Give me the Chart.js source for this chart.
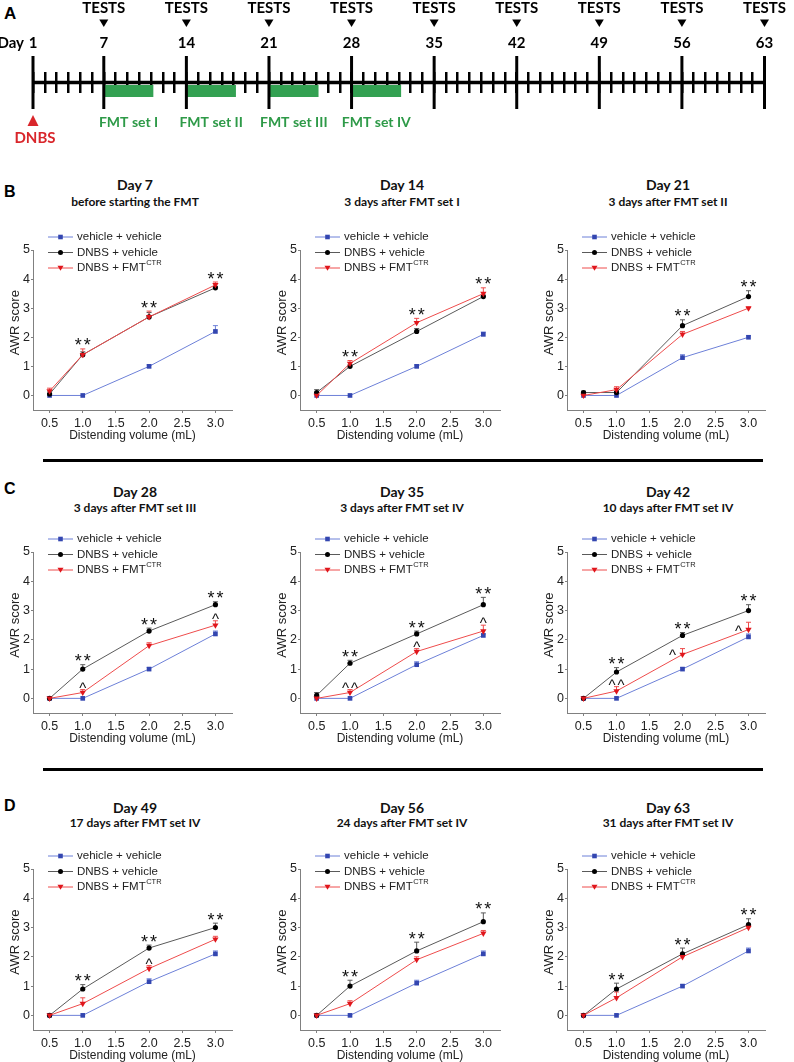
<!DOCTYPE html>
<html><head><meta charset="utf-8">
<script src="https://cdn.jsdelivr.net/npm/chart.js@4.4.1/dist/chart.umd.min.js"></script>
<style>
html,body{margin:0;padding:0;background:#fff;}
#page{position:relative;width:794px;height:1062px;overflow:hidden;background:#fff;font-family:'Liberation Sans',Arial,sans-serif;}
canvas{position:absolute;}
.letter{position:absolute;font:bold 16px 'Liberation Sans',Arial,sans-serif;line-height:1;transform:translateY(-50%);color:#000;}
.ttl{position:absolute;font-family:Lato,'Open Sans',sans-serif;font-weight:700;white-space:nowrap;transform:translate(-50%,-50%);line-height:1;color:#111;}
.sep{position:absolute;height:3px;background:#000;}
</style></head><body><div id="page"></div>
<script>
// ================= DATA =================
// Panel A timeline
const markedDays = [1, 7, 14, 21, 28, 35, 42, 49, 56, 63];
const testDays = [7, 14, 21, 28, 35, 42, 49, 56, 63];
const timelineStart = 1, timelineEnd = 63;
const fmtLabels = ['FMT set I', 'FMT set II', 'FMT set III', 'FMT set IV'];
const fmtStart = [7, 14, 21, 28];
const fmtEnd = [11.2, 18.2, 25.2, 32.2];
const dnbsDay = 1;

// Panels B-D
const volumes = [0.5, 1.0, 2.0, 3.0];
const xTickValues = [0.5, 1.0, 1.5, 2.0, 2.5, 3.0];
const yTickValues = [0, 1, 2, 3, 4, 5];
const seriesLabels = ['vehicle + vehicle', 'DNBS + vehicle', 'DNBS + FMT'];
const seriesSup = ['', '', 'CTR'];
const panelLetters = ['B', 'C', 'D'];
const panelTitles = ['Day 7', 'Day 14', 'Day 21', 'Day 28', 'Day 35', 'Day 42', 'Day 49', 'Day 56', 'Day 63'];
const panelSubtitles = ['before starting the FMT', '3 days after FMT set I', '3 days after FMT set II',
  '3 days after FMT set III', '3 days after FMT set IV', '10 days after FMT set IV',
  '17 days after FMT set IV', '24 days after FMT set IV', '31 days after FMT set IV'];

const vehVehMean = [
  [0, 0, 1.0, 2.2], [0, 0, 1.0, 2.1], [0, 0, 1.3, 2.0],
  [0, 0, 1.0, 2.2], [0, 0, 1.15, 2.15], [0, 0, 1.0, 2.1],
  [0, 0, 1.15, 2.1], [0, 0, 1.1, 2.1], [0, 0, 1.0, 2.2]];
const vehVehSem = [
  [0, 0, 0.05, 0.2], [0, 0, 0.05, 0.08], [0, 0, 0.1, 0.05],
  [0, 0, 0.05, 0.1], [0, 0, 0.1, 0.05], [0, 0, 0.05, 0.1],
  [0, 0, 0.1, 0.1], [0, 0, 0.1, 0.1], [0, 0, 0.05, 0.1]];
const dnbsVehMean = [
  [0.05, 1.4, 2.7, 3.7], [0.1, 1.0, 2.2, 3.4], [0.1, 0.1, 2.4, 3.4],
  [0, 1.0, 2.3, 3.2], [0.1, 1.2, 2.2, 3.2], [0, 0.9, 2.15, 3.0],
  [0, 0.9, 2.3, 3.0], [0, 1.0, 2.2, 3.2], [0, 0.9, 2.1, 3.1]];
const dnbsVehSem = [
  [0.1, 0.1, 0.15, 0.05], [0.1, 0.05, 0.1, 0.05], [0.05, 0.05, 0.2, 0.2],
  [0, 0.15, 0.1, 0.1], [0.1, 0.1, 0.1, 0.25], [0, 0.15, 0.1, 0.2],
  [0.05, 0.15, 0.1, 0.15], [0, 0.2, 0.3, 0.3], [0, 0.2, 0.2, 0.2]];
const dnbsFmtMean = [
  [0.15, 1.4, 2.7, 3.8], [0, 1.1, 2.5, 3.5], [0, 0.2, 2.1, 3.0],
  [0, 0.2, 1.8, 2.5], [0, 0.2, 1.6, 2.3], [0, 0.25, 1.5, 2.35],
  [0, 0.4, 1.6, 2.6], [0, 0.4, 1.9, 2.8], [0, 0.6, 2.0, 3.0]];
const dnbsFmtSem = [
  [0.1, 0.2, 0.2, 0.1], [0.1, 0.1, 0.15, 0.2], [0.1, 0.1, 0.1, 0.05],
  [0.05, 0.1, 0.1, 0.15], [0.05, 0.1, 0.1, 0.2], [0.05, 0.15, 0.2, 0.25],
  [0.05, 0.2, 0.1, 0.1], [0.05, 0.1, 0.1, 0.1], [0.05, 0.2, 0.1, 0.1]];
// significance marks
const starsAt = [[1, 2, 3], [1, 2, 3], [2, 3], [1, 2, 3], [1, 2, 3], [1, 2, 3], [1, 2, 3], [1, 2, 3], [1, 2, 3]];
const caretMarks = [[], [], [],
  [{x: 1, t: '^', at: 'above'}, {x: 3, t: '^', at: 'above'}],
  [{x: 1, t: '^^', at: 'above'}, {x: 2, t: '^', at: 'above'}, {x: 3, t: '^', at: 'above'}],
  [{x: 1, t: '^^', at: 'above'}, {x: 2, t: '^', at: 'left'}, {x: 3, t: '^', at: 'left'}],
  [{x: 2, t: '^', at: 'above'}], [], []];

// ================= LAYOUT / STYLE =================
const colLeft = [33, 300, 567], colRight = [232, 500, 765], colCenter = [135, 402, 668];
const rowTop = [250, 552, 869], rowBottom = [410, 713, 1030];
const titleY = [185, 492, 808], subY = [202, 508, 823], letterY = [192, 489, 806];
const sepY = [460, 769];
const seriesStyle = [
  {line: '#6d80d8', mark: '#3346b0', shape: 'rect'},
  {line: '#5a5a5a', mark: '#000000', shape: 'circle'},
  {line: '#ee4c4c', mark: '#e0161c', shape: 'triDown'}];
const TITLE_FONT = "Lato, 'Open Sans', sans-serif";
const ARIAL = "'Liberation Sans', Arial, sans-serif";

Chart.defaults.font.family = ARIAL;
Chart.defaults.color = '#222';

const page = document.getElementById('page');
function addCanvas(left, top, w, h) {
  const c = document.createElement('canvas');
  c.width = w; c.height = h;
  c.style.left = left + 'px'; c.style.top = top + 'px';
  c.style.width = w + 'px'; c.style.height = h + 'px';
  page.appendChild(c);
  return c;
}
function addDiv(cls, text, x, y, extra) {
  const d = document.createElement('div');
  d.className = cls; d.textContent = text;
  d.style.left = x + 'px'; d.style.top = y + 'px';
  if (extra) Object.assign(d.style, extra);
  page.appendChild(d);
  return d;
}

// ================= PANEL A =================
addDiv('letter', 'A', 4, 13, {fontSize: '17px'});
const tlCanvas = addCanvas(0, 0, 794, 150);
const BAR_LEVEL = -0.81;
const timelineText = {
  id: 'timelineText',
  afterDraw(chart) {
    const ctx = chart.ctx, xs = chart.scales.x;
    ctx.save();
    ctx.textAlign = 'center'; ctx.textBaseline = 'middle'; ctx.fillStyle = '#000';
    ctx.font = "700 15px " + TITLE_FONT;
    testDays.forEach(d => {
      const px = xs.getPixelForValue(d);
      ctx.fillText('TESTS', px, 8);
      ctx.beginPath(); ctx.moveTo(px - 4.5, 19.5); ctx.lineTo(px + 4.5, 19.5); ctx.lineTo(px, 27); ctx.closePath(); ctx.fill();
    });
    markedDays.forEach(d => ctx.fillText(String(d), xs.getPixelForValue(d), 43));
    ctx.textAlign = 'right';
    ctx.fillText('Day', xs.getPixelForValue(timelineStart) - 9, 43);
    ctx.textAlign = 'center'; ctx.fillStyle = '#2e9a48';
    ctx.font = "700 14px " + TITLE_FONT;
    fmtLabels.forEach((t, k) => {
      const cx = (xs.getPixelForValue(fmtStart[k]) + xs.getPixelForValue(fmtEnd[k])) / 2;
      ctx.fillText(t, cx, 122);
    });
    const dx = xs.getPixelForValue(dnbsDay);
    ctx.fillStyle = '#d9262b';
    ctx.beginPath(); ctx.moveTo(dx, 115); ctx.lineTo(dx + 5.5, 126); ctx.lineTo(dx - 5.5, 126); ctx.closePath(); ctx.fill();
    ctx.font = "700 15px " + TITLE_FONT;
    ctx.fillText('DNBS', dx + 2, 138);
    ctx.restore();
  }
};
const tlDatasets = [];
fmtStart.forEach((s, k) => tlDatasets.push({
  data: [{x: s, y: BAR_LEVEL}, {x: fmtEnd[k], y: BAR_LEVEL}],
  showLine: true, borderColor: '#33a152', borderWidth: 12, borderCapStyle: 'butt',
  pointRadius: 0, clip: false, order: 3
}));
tlDatasets.push({
  data: [{x: timelineStart, y: 0}, {x: timelineEnd, y: 0}],
  showLine: true, borderColor: '#000', borderWidth: 3.5, pointRadius: 0, clip: false, order: 2
});
tlDatasets.push({
  data: markedDays.map(d => ({x: d, y: 0})),
  showLine: false, pointStyle: 'line', rotation: 90, pointRadius: 26.5,
  pointBorderWidth: 3, pointBorderColor: '#000', clip: false, order: 1
});
new Chart(tlCanvas, {
  type: 'scatter',
  data: {datasets: tlDatasets},
  options: {
    responsive: false, animation: false, events: [],
    layout: {padding: {left: 33, right: 17, top: 72, bottom: 57}},
    plugins: {legend: {display: false}, tooltip: {enabled: false}},
    scales: {
      x: {type: 'linear', min: timelineStart, max: timelineEnd,
        ticks: {stepSize: 1, display: false, autoSkip: false},
        grid: {display: true, drawOnChartArea: true, drawTicks: false, color: '#000', lineWidth: 2.5},
        border: {display: false},
        afterFit(s) { s.height = 0; }},
      y: {display: false, min: -1, max: 1}
    }
  },
  plugins: [timelineText]
});

// ================= PANELS B-D =================
sepY.forEach(y => addDiv('sep', '', 43, y - 1.5, {width: (763 - 43) + 'px'}));
panelLetters.forEach((L, r) => addDiv('letter', L, 4, letterY[r]));

function drawMarker(ctx, shape, x, y, color) {
  ctx.save(); ctx.fillStyle = color; ctx.beginPath();
  if (shape === 'rect') ctx.rect(x - 2.3, y - 2.3, 4.6, 4.6);
  else if (shape === 'circle') ctx.arc(x, y, 2.5, 0, Math.PI * 2);
  else { ctx.moveTo(x - 3, y - 2.2); ctx.lineTo(x + 3, y - 2.2); ctx.lineTo(x, y + 2.8); ctx.closePath(); }
  ctx.fill(); ctx.restore();
}

const insetLegend = {
  id: 'insetLegend',
  afterDraw(chart) {
    const ctx = chart.ctx, {left, top} = chart.chartArea;
    const rows = [top - 13, top + 2.5, top + 18];
    ctx.save();
    seriesLabels.forEach((lab, k) => {
      const y = rows[k], st = seriesStyle[k];
      ctx.strokeStyle = st.line; ctx.lineWidth = 1;
      ctx.beginPath(); ctx.moveTo(left + 15, y); ctx.lineTo(left + 40, y); ctx.stroke();
      drawMarker(ctx, st.shape, left + 27.5, y, st.mark);
      ctx.fillStyle = '#222'; ctx.font = '11.5px ' + ARIAL;
      ctx.textAlign = 'left'; ctx.textBaseline = 'middle';
      ctx.fillText(lab, left + 44, y);
      if (seriesSup[k]) {
        const w = ctx.measureText(lab).width;
        ctx.font = '7.5px ' + ARIAL;
        ctx.fillText(seriesSup[k], left + 44 + w + 0.5, y - 5);
      }
    });
    ctx.restore();
  }
};

const errorBars = {
  id: 'errorBars',
  beforeDatasetsDraw(chart) {
    const ctx = chart.ctx, xs = chart.scales.x, ys = chart.scales.y;
    ctx.save(); ctx.lineWidth = 1;
    chart.data.datasets.forEach(ds => {
      ctx.strokeStyle = ds.borderColor;
      ds.data.forEach((p, k) => {
        const e = ds.sem[k];
        if (!e) return;
        const px = xs.getPixelForValue(p.x), y0 = ys.getPixelForValue(p.y), y1 = ys.getPixelForValue(p.y + e);
        ctx.beginPath(); ctx.moveTo(px, y0); ctx.lineTo(px, y1);
        ctx.moveTo(px - 2.5, y1); ctx.lineTo(px + 2.5, y1); ctx.stroke();
      });
    });
    ctx.restore();
  }
};

const sigMarks = {
  id: 'sigMarks',
  afterDatasetsDraw(chart) {
    const ctx = chart.ctx, xs = chart.scales.x, ys = chart.scales.y, i = chart.options.panelIndex;
    ctx.save(); ctx.fillStyle = '#111'; ctx.textAlign = 'center'; ctx.textBaseline = 'alphabetic';
    ctx.font = '18px ' + ARIAL;
    starsAt[i].forEach(xv => {
      let top = Infinity;
      chart.data.datasets.forEach(ds => {
        const k = volumes.indexOf(xv);
        top = Math.min(top, ys.getPixelForValue(ds.data[k].y + (ds.sem[k] || 0)));
      });
      const px = xs.getPixelForValue(xv), cy = top - 8;
      ctx.fillText('*', px - 4.5, cy + 10.5);
      ctx.fillText('*', px + 4.5, cy + 10.5);
    });
    ctx.font = '15px ' + ARIAL;
    caretMarks[i].forEach(m => {
      const k = volumes.indexOf(m.x);
      const v = dnbsFmtMean[i][k], e = dnbsFmtSem[i][k];
      let px = xs.getPixelForValue(m.x), cy;
      if (m.at === 'left') { px -= 10; cy = ys.getPixelForValue(v) - 3; }
      else cy = ys.getPixelForValue(v + e) - 6;
      const chars = m.t.split('');
      chars.forEach((c, j) => {
        const off = (j - (chars.length - 1) / 2) * 9;
        ctx.fillText(c, px + off, cy + 9);
      });
    });
    ctx.restore();
  }
};

const yTitle = {
  id: 'yTitle',
  afterDraw(chart) {
    const ctx = chart.ctx, ys = chart.scales.y;
    ctx.save();
    ctx.translate(chart.chartArea.left - 18, ys.getPixelForValue(2.5));
    ctx.rotate(-Math.PI / 2);
    ctx.fillStyle = '#222'; ctx.font = '13px ' + ARIAL;
    ctx.textAlign = 'center'; ctx.textBaseline = 'middle';
    ctx.fillText('AWR score', 0, 0);
    ctx.restore();
  }
};

const AXIS_COLOR = '#808080';
for (let i = 0; i < 9; i++) {
  const col = i % 3, row = Math.floor(i / 3);
  const L = colLeft[col], R = colRight[col], T = rowTop[row], B = rowBottom[row];
  addDiv('ttl', panelTitles[i], colCenter[col], titleY[row], {fontSize: '14px'});
  addDiv('ttl', panelSubtitles[i], colCenter[col], subY[row], {fontSize: '12px'});
  const cw = (R - L) + 33 + 30, ch = (B - T) + 40 + 33;
  const cv = addCanvas(L - 33, T - 40, cw, ch);
  const means = [vehVehMean[i], dnbsVehMean[i], dnbsFmtMean[i]];
  const sems = [vehVehSem[i], dnbsVehSem[i], dnbsFmtSem[i]];
  const datasets = seriesLabels.map((lab, s) => ({
    label: lab,
    data: volumes.map((v, k) => ({x: v, y: means[s][k]})),
    sem: sems[s],
    showLine: true,
    borderColor: seriesStyle[s].line, borderWidth: 1,
    pointBackgroundColor: seriesStyle[s].mark, pointBorderColor: seriesStyle[s].mark,
    pointBorderWidth: 0,
    pointStyle: seriesStyle[s].shape === 'rect' ? 'rect' : (seriesStyle[s].shape === 'circle' ? 'circle' : 'triangle'),
    rotation: seriesStyle[s].shape === 'triDown' ? 180 : 0,
    pointRadius: seriesStyle[s].shape === 'rect' ? 3.3 : (seriesStyle[s].shape === 'circle' ? 2.6 : 3.6),
    clip: false,
    order: 2 - s
  }));
  new Chart(cv, {
    type: 'scatter',
    data: {datasets},
    options: {
      panelIndex: i,
      responsive: false, animation: false, events: [],
      layout: {padding: {left: 0, right: 30, top: 40, bottom: 0}},
      plugins: {legend: {display: false}, tooltip: {enabled: false}},
      scales: {
        x: {type: 'linear', min: 0.25, max: 3.25,
          afterBuildTicks(s) { s.ticks = xTickValues.map(v => ({value: v})); },
          afterFit(s) { s.height = 33; },
          ticks: {callback: v => Number(v).toFixed(1), font: {size: 12.5}, color: '#222', padding: 3, maxRotation: 0, autoSkip: false},
          grid: {drawOnChartArea: false, drawTicks: true, tickLength: 3, color: AXIS_COLOR},
          border: {color: AXIS_COLOR, width: 1},
          title: {display: true, text: 'Distending volume (mL)', font: {size: 12}, color: '#222', padding: {top: 0, bottom: 0}}},
        y: {min: -0.5, max: 5,
          afterBuildTicks(s) { s.ticks = yTickValues.map(v => ({value: v})); },
          afterFit(s) { s.width = 33; },
          ticks: {callback: v => String(v), font: {size: 12.5}, color: '#222', padding: 1, autoSkip: false},
          grid: {drawOnChartArea: false, drawTicks: true, tickLength: 2, color: AXIS_COLOR},
          border: {color: AXIS_COLOR, width: 1}}
      }
    },
    plugins: [errorBars, sigMarks, insetLegend, yTitle]
  });
}
</script></body></html>
